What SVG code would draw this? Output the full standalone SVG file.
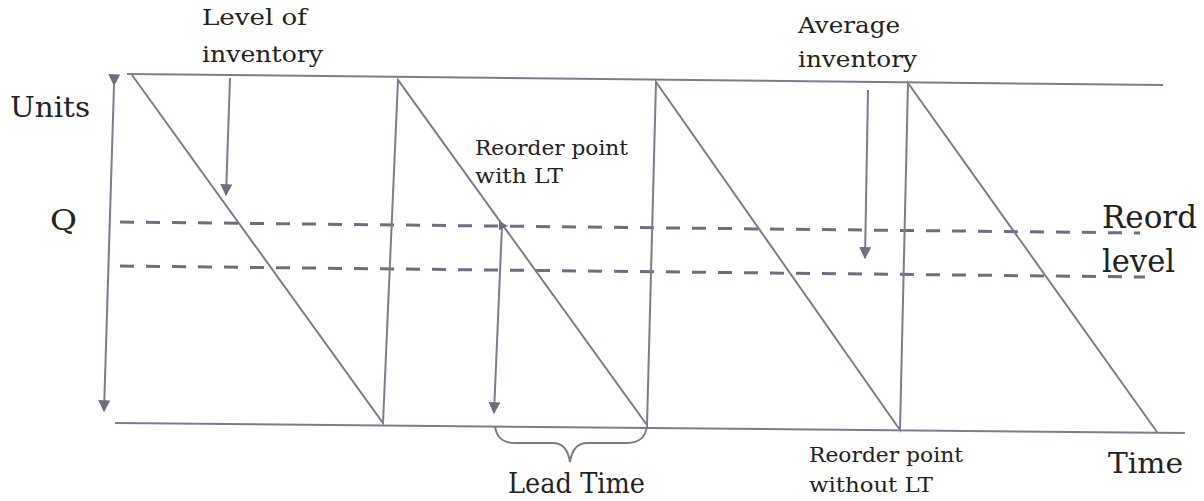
<svg xmlns="http://www.w3.org/2000/svg" width="1204" height="501" viewBox="0 0 1204 501">
<style>
.ln{stroke:#7c7c90;stroke-width:2;fill:none}
.dash{stroke:#6e6e82;stroke-width:3;stroke-dasharray:14 12;fill:none}
.t{font-family:'DejaVu Serif','Liberation Serif',serif;fill:#222}
</style>
<defs>
<marker id="ah" viewBox="0 0 10 10" refX="9" refY="5" markerWidth="6" markerHeight="6" orient="auto" markerUnits="strokeWidth">
<path d="M0,0 L10,5 L0,10 z" fill="#6e6e82"/>
</marker>
</defs>
<rect width="1204" height="501" fill="#fff"/>
<g id="connectors">
<line class="ln" x1="127" y1="74" x2="1163" y2="85"/>
<line class="ln" x1="115" y1="423" x2="1185" y2="433"/>
<line class="ln" x1="114" y1="85" x2="104" y2="411" marker-start="url(#ah)" marker-end="url(#ah)"/>
<line class="dash" x1="120" y1="222" x2="1140" y2="233"/>
<line class="dash" x1="120" y1="266" x2="1145" y2="277"/>
<polyline class="ln" points="132,75 383,423 398,80 647,425 656,82 900,430 908,83 1157,432"/>
<line class="ln" x1="230" y1="78" x2="226" y2="195" marker-end="url(#ah)"/>
<line class="ln" x1="502" y1="225" x2="494" y2="413" marker-end="url(#ah)"/>
<path d="M499,221 L508,226 L499,230 z" fill="#6e6e82"/>
<line class="ln" x1="868" y1="90" x2="865" y2="258" marker-end="url(#ah)"/>
<path class="ln" d="M495,426 Q497,443 515,443 L553,443 Q567,443 570,462 Q573,443 587,443 L627,443 Q645,443 647,426"/>
</g>
<g id="label-level">
<text class="t" x="202" y="25" font-size="22" textLength="105" lengthAdjust="spacingAndGlyphs">Level of</text>
<text class="t" x="202" y="62" font-size="22" textLength="121" lengthAdjust="spacingAndGlyphs">inventory</text>
</g>
<g id="label-average">
<text class="t" x="798" y="33" font-size="22" textLength="102" lengthAdjust="spacingAndGlyphs">Average</text>
<text class="t" x="798" y="67" font-size="22" textLength="119" lengthAdjust="spacingAndGlyphs">inventory</text>
</g>
<g id="label-units">
<text class="t" x="10" y="117" font-size="27" textLength="80" lengthAdjust="spacingAndGlyphs">Units</text>
</g>
<g id="label-q">
<text class="t" x="50" y="230" font-size="27" textLength="27" lengthAdjust="spacingAndGlyphs">Q</text>
</g>
<g id="label-reord">
<text class="t" x="1102" y="228" font-size="31" textLength="95" lengthAdjust="spacingAndGlyphs">Reord</text>
<text class="t" x="1102" y="272" font-size="31" textLength="73" lengthAdjust="spacingAndGlyphs">level</text>
</g>
<g id="label-rop-lt">
<text class="t" x="475" y="155" font-size="21" textLength="153" lengthAdjust="spacingAndGlyphs">Reorder point</text>
<text class="t" x="475" y="183" font-size="21" textLength="88" lengthAdjust="spacingAndGlyphs">with LT</text>
</g>
<g id="label-lead">
<text class="t" x="508" y="493" font-size="27" textLength="137" lengthAdjust="spacingAndGlyphs">Lead Time</text>
</g>
<g id="label-rop-nolt">
<text class="t" x="809" y="462" font-size="21" textLength="154" lengthAdjust="spacingAndGlyphs">Reorder point</text>
<text class="t" x="809" y="492" font-size="21" textLength="124" lengthAdjust="spacingAndGlyphs">without LT</text>
</g>
<g id="label-time">
<text class="t" x="1108" y="473" font-size="27" textLength="75" lengthAdjust="spacingAndGlyphs">Time</text>
</g>
</svg>
